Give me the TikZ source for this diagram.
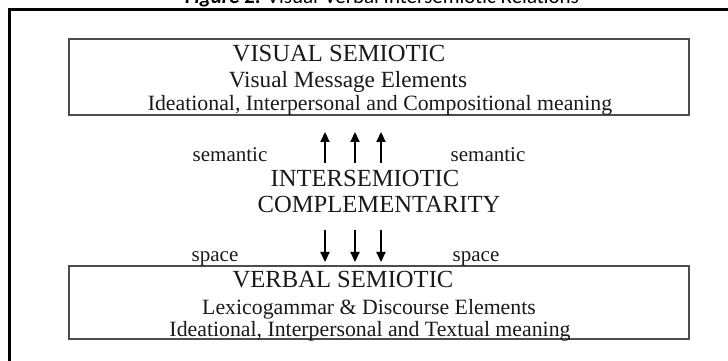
\documentclass[tikz,border=0pt]{standalone}
\usepackage{fontspec}
\setmainfont{Liberation Serif}
\newfontfamily\titlefont{Carlito}
\usetikzlibrary{arrows.meta}
\begin{document}
\begin{tikzpicture}[x=1pt,y=1pt,
  boxline/.style={draw=black!70, line width=1.7pt},
  frameline/.style={draw=black, line width=3pt},
  txt/.style={anchor=base, inner sep=0pt, text=black!90},
  head/.style={txt, font=\fontsize{24.6}{26}\selectfont},
  body/.style={txt, font=\fontsize{21.8}{24}\selectfont},
  lab/.style={txt, font=\fontsize{21}{23}\selectfont},
  arr/.style={line width=2.2pt, -{Triangle[length=10pt,width=9pt]}}]
\useasboundingbox (0,0) rectangle (728,361);
% title (partly above the page)
\node[anchor=base, inner sep=0pt, font=\titlefont\fontsize{21}{24}\selectfont] (title) at (382,357)
  {\textbf{\textit{Figure 2:}} Visual-Verbal Intersemiotic Relations};
% outer frame
\coordinate (fb) at (9,-5);
\coordinate (fc) at (9,351);
\coordinate (fr) at (735,351);
\draw[frameline] (fb) -- (fc) -- (fr);
% boxes
\node[boxline, minimum width=620pt, minimum height=76pt, inner sep=0pt] (top) at (379,284) {};
\node[boxline, minimum width=620pt, minimum height=73pt, inner sep=0pt] (bot) at (379,58.5) {};
% upper box text
\node[head] (t1) at (339,299) {VISUAL SEMIOTIC};
\node[body, font=\fontsize{23.2}{25}\selectfont] (t2) at (348,273) {Visual Message Elements};
\node[body] (t3) at (380,250) {Ideational, Interpersonal and Compositional meaning};
% middle
\node[lab] (sl) at (230,199) {semantic};
\node[lab] (sr) at (488,199) {semantic};
\node[head] (m1) at (365,174) {INTERSEMIOTIC};
\node[head] (m2) at (379,148) {COMPLEMENTARITY};
\node[lab] (pl) at (215,99) {space};
\node[lab] (pr) at (476,99) {space};
% lower box text
\node[head] (b1) at (343,73) {VERBAL SEMIOTIC};
\node[body] (b2) at (369,46) {Lexicogammar \& Discourse Elements};
\node[body] (b3) at (370,24) {Ideational, Interpersonal and Textual meaning};
% arrows
\foreach \i/\x in {1/325,2/355,3/381}{
  \coordinate (us\i) at (\x,198);
  \coordinate (ue\i) at (\x,229);
  \coordinate (ds\i) at (\x,131);
  \coordinate (de\i) at (\x,99);
  \draw[arr] (us\i) -- (ue\i);
  \draw[arr] (ds\i) -- (de\i);
}
\end{tikzpicture}
\end{document}
